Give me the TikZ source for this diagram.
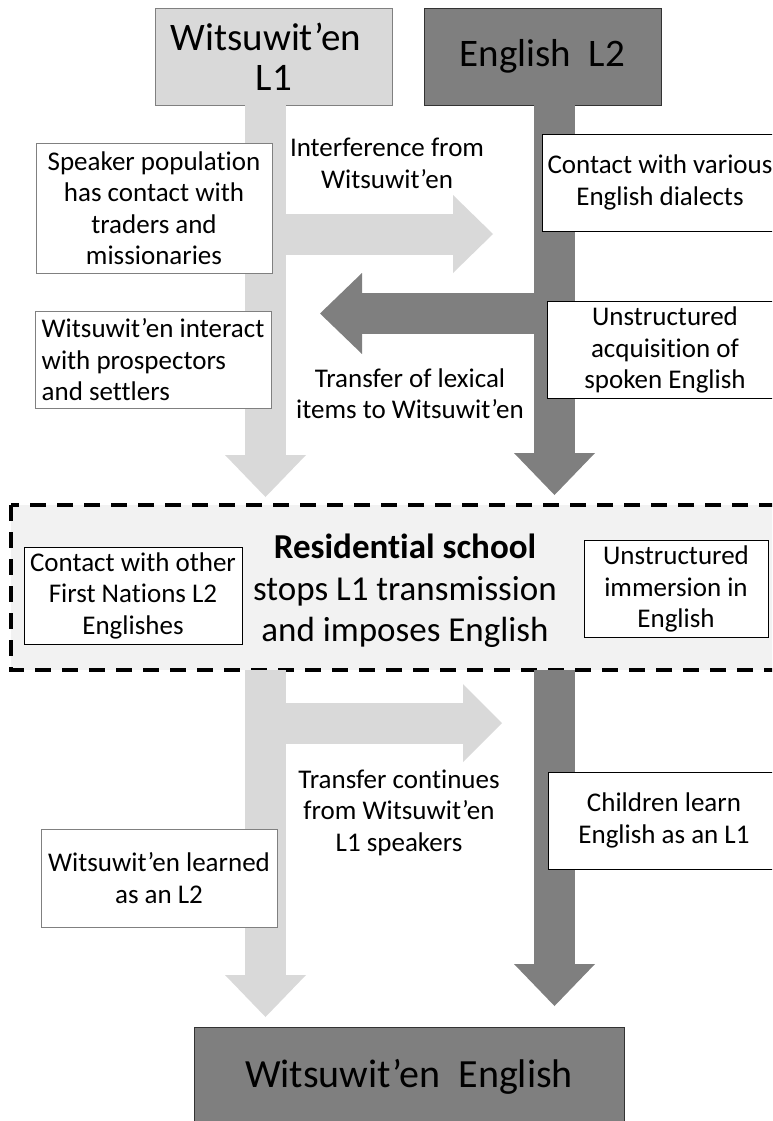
\documentclass[tikz,border=0pt]{standalone}
\usepackage{fontspec}
\setmainfont{Carlito}[Ligatures=NoCommon]
\usetikzlibrary{arrows.meta,positioning}

\definecolor{lightflow}{HTML}{D9D9D9}
\definecolor{darkflow}{HTML}{7F7F7F}
\definecolor{schoolfill}{HTML}{F2F2F2}

\tikzset{
  lang/.style={draw, minimum width=237pt, minimum height=97pt, align=center,
    inner sep=0pt, font=\fontsize{39}{40}\selectfont},
  note/.style={draw=gray, fill=white, minimum width=236pt, minimum height=97pt,
    align=center, inner sep=0pt, font=\fontsize{27}{31.5}\selectfont},
  rnote/.style={note, draw=black},
  plain/.style={align=center, inner sep=0pt, font=\fontsize{27}{31.5}\selectfont},
  lflow/.style={lightflow, line width=41pt,
    -{Triangle[length=42pt,width=81pt,line width=0pt]}},
  dflow/.style={darkflow, line width=41pt,
    -{Triangle[length=42pt,width=81pt,line width=0pt]}},
}

\begin{document}
\begin{tikzpicture}[x=1pt, y=-1pt]
  \clip (0,0) rectangle (772,1121);
  \coordinate (lx) at (265.5,0);
  \coordinate (dx) at (554.5,0);

  % starting languages
  \node[lang, fill=lightflow, draw=gray] (wl1) at (274,56.5) {Witsuwit’en\kern16pt\\L1};
  \node[lang, fill=darkflow, draw=black!80] (eng) at (542.5,56.5) {English~ L2};

  % upper flows
  \draw[lflow] (lx |- wl1.south) -- (265.5,497);
  \draw[dflow] (dx |- eng.south) -- (554.5,495);
  \coordinate (int) at (493,234);
  \coordinate (lex) at (320,313.5);
  \draw[lflow, -{Triangle[length=40pt,width=78pt,line width=0pt]}] (lx |- int) -- (int);
  \draw[dflow] (dx |- lex) -- (lex);

  \node[note] (pop) at (154,208) [minimum height=130pt]
    {Speaker population\\has contact with\\traders and\\missionaries};
  \node[plain] (interf) at (387,163.5) {Interference from\\Witsuwit’en};
  \node[rnote] (various) at (660,182.5) {Contact with various\\English dialects};
  \node[note, align=left] (interact) at (153,360)
    {Witsuwit’en interact\\with prospectors\\and settlers};
  \node[rnote] (acq) at (665,350) {Unstructured\\acquisition of\\spoken English};
  \node[plain] (trans) at (410,393.5) {Transfer of lexical\\items to Witsuwit’en};

  % residential school
  \draw[dashed, line width=3.5pt, dash pattern=on 16pt off 11pt, fill=schoolfill]
    (11,505) rectangle (795,670);
  \node[align=center, inner sep=0pt, font=\fontsize{35}{41.5}\selectfont] (stops) at (405,591)
    {\textbf{Residential school}\\stops L1 transmission\\and imposes English};
  \node[rnote, minimum width=218pt] (other) at (133,595.5)
    {Contact with other\\First Nations L2\\Englishes};
  \node[rnote, minimum width=184pt] (imm) at (676,589)
    {Unstructured\\immersion in\\English};

  % lower flows
  \node[lang, fill=darkflow, draw=black!80, minimum width=430pt, minimum height=100pt,
    font=\fontsize{40}{40}\selectfont] (wen) at (409,1077) {Witsuwit’en~ English};
  \coordinate (cont) at (502,723);
  \draw[lflow] (265.5,670) -- (265.5,1017);
  \draw[lflow, -{Triangle[length=39pt,width=78pt,line width=0pt]}] (lx |- cont) -- (cont);
  \draw[dflow] (554.5,670) -- (554.5,1006);

  \node[plain] (cont) at (399,812.5) {Transfer continues\\from Witsuwit’en\\L1 speakers};
  \node[rnote, minimum width=232pt] (children) at (664,820.5)
    {Children learn\\English as an L1};
  \node[note, minimum height=98pt] (learned) at (159,878)
    {Witsuwit’en learned\\as an L2};
\end{tikzpicture}
\end{document}
